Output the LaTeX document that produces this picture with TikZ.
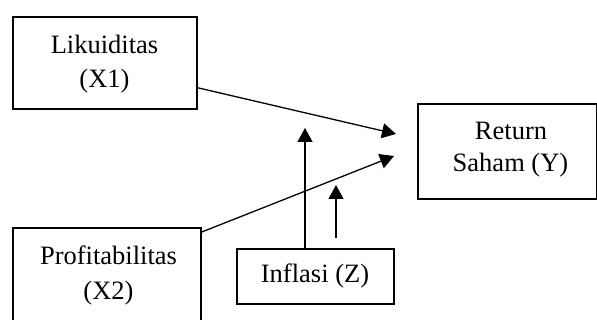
\documentclass[tikz,border=0pt]{standalone}
\usepackage{fontspec}
\setmainfont{Liberation Serif}
\usetikzlibrary{arrows.meta,calc}
\begin{document}
\begin{tikzpicture}[x=1pt,y=-1pt,
  box/.style={draw,line width=1.8pt,inner sep=0pt},
  txt/.style={anchor=base,font=\fontsize{26.5}{33}\selectfont,inner sep=0pt},
  arr/.style={line width=1.3pt,-{Triangle[length=14pt,width=15pt]}}]
\useasboundingbox (0,0) rectangle (597,320);
\clip (0,0) rectangle (597,320);
\node[box,anchor=north west,minimum width=184pt,minimum height=92pt] (x1) at (12,16) {};
\node[txt] (x1a) at (104.5,54) {Likuiditas};
\node[txt] (x1b) at (104.5,88) {(X1)};
\node[box,anchor=north west,minimum width=188pt,minimum height=120pt] (x2) at (12,227) {};
\node[txt] (x2a) at (108.5,265) {Profitabilitas};
\node[txt] (x2b) at (108.5,300) {(X2)};
\node[box,anchor=north west,minimum width=179pt,minimum height=95pt] (y) at (417,103) {};
\node[txt] (ya) at (511,140) {Return};
\node[txt] (yb) at (510.5,172) {Saham (Y)};
\node[box,anchor=north west,minimum width=157pt,minimum height=55pt] (z) at (236,248) {};
\node[txt] (za) at (315,283) {Inflasi (Z)};
\coordinate (s1) at ($(x1.south east)+(0,-22)$);
\coordinate (t1) at (396,134);
\coordinate (s2) at (x2.north east);
\coordinate (t2) at (394,156);
\coordinate (s3) at (305,248);
\coordinate (t3) at (305,128);
\coordinate (s4) at (336,238);
\coordinate (t4) at (336,185);
\draw[arr] (s1) -- (t1);
\draw[arr] ($(s2)+(0,5)$) -- (t2);
\draw[arr] (z.north -| s3) -- (t3);
\draw[arr] (s4) -- (t4);
\end{tikzpicture}
\end{document}
